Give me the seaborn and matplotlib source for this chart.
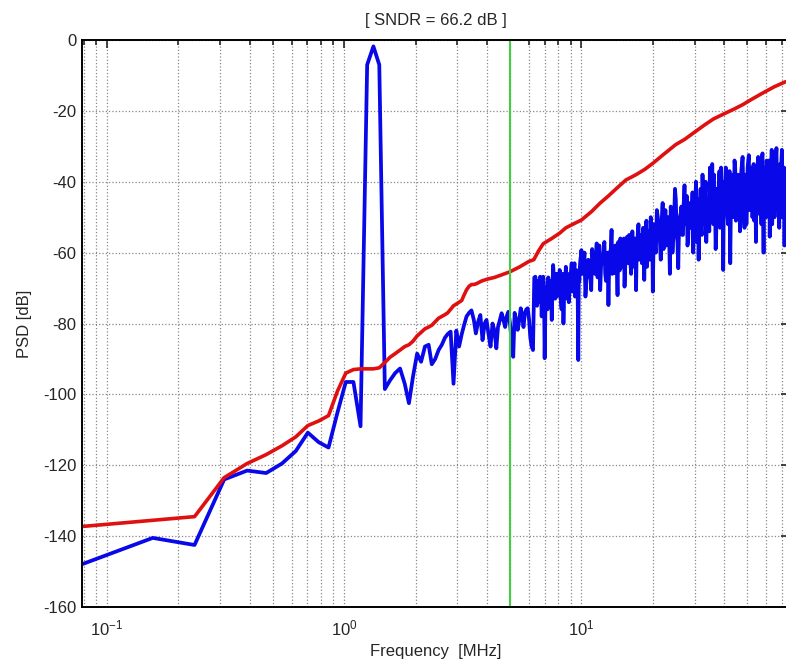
import numpy as np
import pandas as pd
import seaborn as sns
import matplotlib.pyplot as plt
from matplotlib.ticker import LogLocator, MultipleLocator, NullFormatter, LogFormatterMathtext

# --- PSD of the modulator output (blue) ---
# low frequency bins + signal tone
f_low = [0.078, 0.156, 0.234, 0.312, 0.39, 0.469, 0.547, 0.625, 0.703, 0.781, 0.859, 0.938,
         1.016, 1.094, 1.172, 1.25, 1.328, 1.406, 1.484, 1.562, 1.64, 1.72, 1.80, 1.875, 1.95,
         2.03, 2.11, 2.19, 2.27, 2.34, 2.42, 2.5, 2.58, 2.66, 2.73, 2.81, 2.89, 2.97, 3.05,
         3.13, 3.2, 3.28, 3.36, 3.44, 3.52, 3.59, 3.67, 3.75, 3.83, 3.91, 3.98, 4.06, 4.14,
         4.22, 4.3, 4.38, 4.45, 4.53, 4.61, 4.69, 4.77, 4.84, 4.92, 5.0, 5.08, 5.16, 5.23,
         5.31, 5.39, 5.47, 5.55, 5.63, 5.7, 5.78, 5.86, 5.94, 6.02, 6.09, 6.17, 6.25, 6.33]
db_low = [-148, -140.5, -142.5, -124, -121.5, -122.2, -119.5, -116, -110.8, -113.5, -115, -105,
          -96.5, -96.5, -109, -7, -1.8, -7, -98.5, -96, -94, -92.7, -97, -102.5, -95,
          -88.5, -90.8, -86.5, -86, -91.5, -90, -87.5, -86, -84, -83, -82.3, -97, -82, -86.5,
          -83, -80.5, -78, -77, -76.3, -79, -82.8, -79.5, -77.6, -84.7, -80, -79, -83, -86.5,
          -80, -82, -87, -81, -79, -77.1, -79, -81, -78, -76.7, -80, -85, -89.4, -77,
          -79, -81.8, -79, -75.7, -78, -81, -77, -76, -75.7, -79, -84, -86.5, -87.5, -67]

# noise shaping region, 6.4 - 10 MHz
f_n1 = [6.4, 6.5, 6.6, 6.7, 6.8, 6.9, 7.0, 7.1, 7.2, 7.3, 7.4, 7.5, 7.6, 7.7, 7.8, 7.9, 8.0,
        8.1, 8.2, 8.3, 8.4, 8.5, 8.6, 8.7, 8.8, 8.9, 9.0, 9.1, 9.2, 9.3, 9.4, 9.5, 9.6, 9.7,
        9.8, 9.9, 10.0]
db_n1 = [-66.8, -75, -72.4, -66.8, -78, -66.8, -89.8, -70, -76, -72, -68, -79, -63.5, -70, -66,
         -72.4, -68, -64.9, -74, -69, -80, -70, -64, -73, -67, -71, -66, -63, -69, -65, -72.4,
         -66, -70, -90.3, -68, -62, -59.3]
f_n1b = [6.45, 6.55, 6.65, 6.75, 6.85, 6.95, 7.05, 7.15, 7.25, 7.35, 7.45, 7.55, 7.65, 7.75,
         7.85, 7.95, 8.05, 8.15, 8.25, 8.35, 8.45, 8.55, 8.65, 8.75, 8.85, 8.95, 9.05, 9.15,
         9.25, 9.35, 9.45, 9.55, 9.65, 9.75, 9.85, 9.95]
db_n1b = [-70, -68, -74, -70, -72, -69, -76, -73, -67, -74, -71, -70, -67, -73, -69, -66, -71,
          -67, -76, -66, -72, -68, -70, -66, -74, -68, -65, -71, -67, -63, -70, -65, -73, -66,
          -64, -61]

# 10 - 20 MHz
f_n2 = [10.2, 10.4, 10.6, 10.8, 11.0, 11.2, 11.4, 11.6, 11.8, 12.0, 12.2, 12.4, 12.6, 12.8,
        13.0, 13.2, 13.4, 13.6, 13.8, 14.0, 14.2, 14.4, 14.6, 14.8, 15.0, 15.2, 15.4, 15.6,
        15.8, 16.0, 16.2, 16.4, 16.6, 16.8, 17.0, 17.2, 17.4, 17.6, 17.8, 18.0, 18.2, 18.4,
        18.6, 18.8, 19.0, 19.2, 19.4, 19.6, 19.8, 20.0]
db_n2 = [-64, -72.4, -63, -67, -70.6, -62, -66, -57.4, -64, -70.6, -61, -59.3, -66, -62,
         -74.8, -60, -53.6, -62, -65.8, -58, -72, -60, -56, -64, -58, -69.6, -60, -55.5,
         -63, -57, -66, -54, -61, -56, -70.6, -58, -52, -60, -55, -63, -53, -67.7,
         -57, -51, -60, -54, -62, -50, -58, -71]
f_n2b = [10.1, 10.3, 10.5, 10.7, 10.9, 11.1, 11.3, 11.5, 11.7, 11.9, 12.1, 12.3, 12.5, 12.7,
         12.9, 13.1, 13.3, 13.5, 13.7, 13.9, 14.1, 14.3, 14.5, 14.7, 14.9, 15.1, 15.3, 15.5,
         15.7, 15.9, 16.1, 16.3, 16.5, 16.7, 16.9, 17.1, 17.3, 17.5, 17.7, 17.9, 18.1, 18.3,
         18.5, 18.7, 18.9, 19.1, 19.3, 19.5, 19.7, 19.9]
db_n2b = [-66, -60, -68, -62, -65, -59, -63, -61, -67, -58, -64, -62, -57, -68, -60, -63, -59,
          -66, -61, -58, -63, -57, -65, -60, -62, -56, -64, -59, -61, -55, -63, -58, -60, -64,
          -57, -59, -54, -62, -58, -56, -61, -55, -59, -53, -64, -57, -55, -60, -52, -56]

# 20 - 40 MHz
f_n3 = [20.4, 20.8, 21.2, 21.6, 22.0, 22.4, 22.8, 23.2, 23.6, 24.0, 24.4, 24.8, 25.2, 25.6,
        26.0, 26.4, 26.8, 27.2, 27.6, 28.0, 28.4, 28.8, 29.2, 29.6, 30.0, 30.4, 30.8, 31.2,
        31.6, 32.0, 32.4, 32.8, 33.2, 33.6, 34.0, 34.4, 34.8, 35.2, 35.6, 36.0, 36.4, 36.8,
        37.2, 37.6, 38.0, 38.4, 38.8, 39.2, 39.6, 40.0]
db_n3 = [-58, -48, -55, -62, -46, -53, -58, -50, -66, -52, -56, -42, -54, -64.4,
         -50, -47, -55, -41, -52, -58, -46, -53, -49, -60, -45, -40, -51, -62,
         -47, -54, -38, -49, -44, -57, -46, -51, -36, -48, -35, -52, -44, -59,
         -42, -48, -39, -53, -36, -46, -64.9, -44]
f_n3b = [20.2, 20.6, 21.0, 21.4, 21.8, 22.2, 22.6, 23.0, 23.4, 23.8, 24.2, 24.6, 25.0, 25.4,
         25.8, 26.2, 26.6, 27.0, 27.4, 27.8, 28.2, 28.6, 29.0, 29.4, 29.8, 30.2, 30.6, 31.0,
         31.4, 31.8, 32.2, 32.6, 33.0, 33.4, 33.8, 34.2, 34.6, 35.0, 35.4, 35.8, 36.2, 36.6,
         37.0, 37.4, 37.8, 38.2, 38.6, 39.0, 39.4, 39.8]
db_n3b = [-52, -60, -50, -56, -51, -59, -48, -55, -53, -47, -60, -50, -45, -57, -52, -49, -55,
          -46, -50, -44, -56, -51, -47, -43, -53, -48, -57, -45, -50, -42, -55, -47, -52, -40,
          -49, -45, -54, -41, -47, -50, -38, -46, -55, -43, -49, -37, -51, -44, -40, -48]

# 40 - 72 MHz
f_n4 = [40.6, 41.2, 41.8, 42.4, 43.0, 43.6, 44.2, 44.8, 45.4, 46.0, 46.6, 47.2, 47.8, 48.4,
        49.0, 49.6, 50.2, 50.8, 51.4, 52.0, 52.6, 53.2, 53.8, 54.4, 55.0, 55.6, 56.2, 56.8,
        57.4, 58.0, 58.6, 59.2, 59.8, 60.4, 61.0, 61.6, 62.2, 62.8, 63.4, 64.0, 64.6, 65.2,
        65.8, 66.4, 67.0, 67.6, 68.2, 68.8, 69.4, 70.0, 70.6, 71.2, 71.8, 72.4]
db_n4 = [-36, -49, -42, -63, -38, -47, -34, -51, -40, -45, -54, -37, -33, -46,
         -41, -52, -36, -32.5, -44, -39, -50, -35, -42, -57, -38, -33, -45, -40,
         -52, -32, -60, -38, -43, -34, -48, -36, -55.5, -40, -31, -44, -37, -50,
         -33, -30.5, -46, -39, -53, -35, -42, -31, -48, -37, -58, -40]
f_n4b = [40.3, 40.9, 41.5, 42.1, 42.7, 43.3, 43.9, 44.5, 45.1, 45.7, 46.3, 46.9, 47.5, 48.1,
         48.7, 49.3, 49.9, 50.5, 51.1, 51.7, 52.3, 52.9, 53.5, 54.1, 54.7, 55.3, 55.9, 56.5,
         57.1, 57.7, 58.3, 58.9, 59.5, 60.1, 60.7, 61.3, 61.9, 62.5, 63.1, 63.7, 64.3, 64.9,
         65.5, 66.1, 66.7, 67.3, 67.9, 68.5, 69.1, 69.7, 70.3, 70.9, 71.5, 72.1]
db_n4b = [-44, -39, -52, -37, -45, -41, -50, -36, -47, -38, -43, -49, -35, -41, -53, -38, -44,
          -34, -48, -40, -36, -46, -51, -37, -42, -35, -49, -39, -44, -33, -47, -41, -36, -50,
          -38, -43, -34, -46, -40, -52, -35, -39, -45, -33, -41, -48, -36, -44, -38, -34, -50,
          -42, -36, -45]

# --- smoothed PSD (red) ---
f_smooth = [0.078, 0.234, 0.312, 0.39, 0.469, 0.547, 0.625, 0.703, 0.781, 0.859, 0.938, 1.016,
            1.094, 1.172, 1.25, 1.328, 1.406, 1.484, 1.562, 1.64, 1.72, 1.8, 1.875, 1.95, 2.03,
            2.11, 2.19, 2.27, 2.34, 2.42, 2.5, 2.58, 2.66, 2.73, 2.81, 2.89, 2.97, 3.05, 3.13,
            3.2, 3.28, 3.36, 3.44, 3.52, 3.6, 3.8, 4.0, 4.3, 4.6, 5.0, 5.5, 6.0, 6.3, 6.6, 6.9,
            7.5, 8.1, 8.6, 9.2, 10, 11, 12, 13, 14, 15.4, 17, 18.5, 20, 22, 25, 27.3, 30, 33,
            36, 40, 44, 48, 52, 58, 65, 72.4]
db_smooth = [-137.3, -134.5, -123.5, -119.5, -117, -114.5, -112, -108.8, -107.5, -106, -99, -94,
             -93, -92.8, -92.8, -92.8, -92.5, -91, -89.5, -88.5, -87.5, -86.5, -86, -85, -83.5,
             -82.5, -81.5, -81, -80.5, -79.5, -78.5, -78, -77.5, -77, -76, -75, -74.5, -74, -73.5,
             -72, -70.5, -69.5, -69, -69, -68.8, -68, -67.5, -67, -66.3, -65.4, -64, -62.5, -62, -59.5, -57.5,
             -56, -54.5, -53, -52, -50.8, -48.5, -46, -44, -42, -39.5, -38, -36.5, -34.8, -32.5, -29.5, -28, -26,
             -24, -22.3, -20.8, -19.5, -18.2, -16.8, -15, -13.2, -11.8]

band_edge = 5.0  # MHz, signal bandwidth marker
sndr = 66.2

psd = pd.DataFrame({'freq': f_low + f_n1 + f_n1b + f_n2 + f_n2b + f_n3 + f_n3b + f_n4 + f_n4b,
                    'db': db_low + db_n1 + db_n1b + db_n2 + db_n2b + db_n3 + db_n3b + db_n4 + db_n4b})
psd = psd.sort_values('freq').reset_index(drop=True)
smooth = pd.DataFrame({'freq': f_smooth, 'db': db_smooth})

sns.set_style("white")
plt.rcParams['font.family'] = ['Liberation Sans', 'DejaVu Sans']
plt.rcParams['axes.unicode_minus'] = False

fig = plt.figure(figsize=(7.86, 6.66), dpi=100)
ax = fig.add_axes([82 / 786, 59 / 666, 707 / 786, 567 / 666])

sns.lineplot(data=psd, x='freq', y='db', color='#0808e8', lw=2.7, sort=False,
             estimator=None, ax=ax)
sns.lineplot(data=smooth, x='freq', y='db', color='#e01010', lw=2.6, sort=False,
             estimator=None, ax=ax)
ax.axvline(band_edge, color='#44cc44', lw=1.5)

ax.set_xscale('log')
ax.set_xlim(0.0785, 75)
ax.set_ylim(-160, 0)
ax.yaxis.set_major_locator(MultipleLocator(20))
ax.xaxis.set_major_locator(LogLocator(base=10))
ax.xaxis.set_major_formatter(LogFormatterMathtext())
ax.xaxis.set_minor_locator(LogLocator(base=10, subs=np.arange(2, 10)))
ax.xaxis.set_minor_formatter(NullFormatter())

ax.grid(True, which='major', axis='both', color='#888888', ls=':', lw=0.9)
ax.grid(True, which='minor', axis='x', color='#888888', ls=':', lw=0.9)

ax.tick_params(which='both', direction='in', top=True, right=True, labelsize=12, width=1.2)
ax.tick_params(which='major', length=6)
ax.tick_params(axis='x', which='major', pad=8)
ax.tick_params(axis='y', which='major', pad=4)
ax.tick_params(which='minor', length=3.5)
for s in ax.spines.values():
    s.set_color('black')
    s.set_linewidth(1.4)

ax.set_xlabel('Frequency  [MHz]', fontsize=12, labelpad=4)
ax.set_ylabel('PSD [dB]', fontsize=12, labelpad=8)
ax.set_title(f'[ SNDR = {sndr} dB ]', fontsize=12, pad=11)

fig.savefig('out.png', dpi=100, facecolor='white')
